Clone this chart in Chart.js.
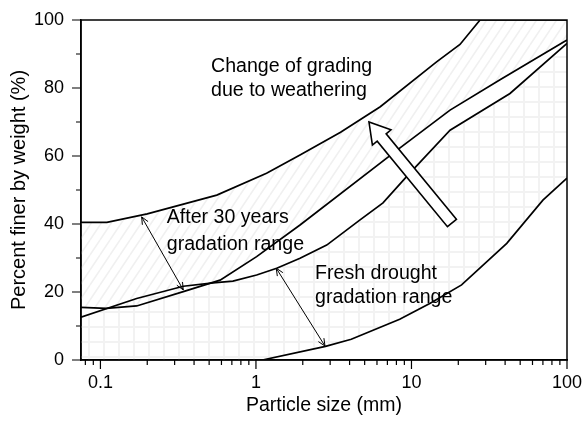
<!DOCTYPE html>
<html><head><meta charset="utf-8">
<script src="https://cdn.jsdelivr.net/npm/chart.js@4/dist/chart.umd.min.js"></script>
<style>html,body{margin:0;padding:0;background:#fff}#wrap{width:586px;height:421px}</style>
</head><body><div id="wrap"><canvas id="c" width="586" height="421"></canvas></div>
<script>
// ---- data (particle size in mm, percent finer by weight) ----
const after30Upper_size = [0.075, 0.11, 0.2, 0.56, 1.17, 1.92, 3.5, 6.3, 14.5, 20.5, 27.6, 100];
const after30Upper_pct  = [40.5, 40.5, 43, 48.5, 54.9, 60.3, 67, 74.5, 87.7, 92.8, 100, 100];
const after30Lower_size = [0.075, 0.109, 0.171, 0.341, 0.588, 1.01, 1.92, 8.44, 17.7, 37.1, 100];
const after30Lower_pct  = [15.5, 15.2, 15.9, 20.1, 23.5, 30.4, 39.7, 62.4, 73.5, 82.4, 94.1];
const freshUpper_size = [0.075, 0.171, 0.341, 0.53, 0.711, 1.01, 1.36, 1.92, 2.85, 4.67, 6.56, 9.33, 17.7, 43, 100];
const freshUpper_pct  = [12.6, 18.1, 21.7, 22.7, 23.2, 25, 27, 29.9, 33.8, 41.2, 46.2, 54, 67.6, 78.4, 93.1];
const freshLower_size = [0.075, 1.1, 2.8, 4.1, 8.4, 13.2, 21, 41, 70, 100];
const freshLower_pct  = [0, 0, 4, 6.1, 12, 16.7, 22.1, 34.3, 47, 53.5];

const xMajorTicks = [0.1, 1, 10, 100];
const xMinorTicks = [0.08, 0.09, 0.2, 0.3, 0.4, 0.5, 0.6, 0.7, 0.8, 0.9, 2, 3, 4, 5, 6, 7, 8, 9, 20, 30, 40, 50, 60, 70, 80, 90];
const yMajorTicks = [0, 20, 40, 60, 80, 100];
const yMinorTicks = [10, 30, 50, 70, 90];

const xLabel = 'Particle size (mm)';
const yLabel = 'Percent finer by weight (%)';

// annotations (data coordinates)
const notes = [
  {lines: ['Change of grading', 'due to weathering'], x: 0.514, y: [84.7, 77.6]},
  {lines: ['After 30 years', 'gradation range'], x: 0.267, y: [40.4, 32.4]},
  {lines: ['Fresh drought', 'gradation range'], x: 2.40, y: [23.8, 16.7]}
];
const thinArrows = [
  {from: [0.184, 42.1], to: [0.341, 20.6]},
  {from: [1.35, 27.0], to: [2.78, 4.1]}
];
const bigArrow = {tail: [18.2, 40.3], tip: [5.33, 70.0]};

const FONT = '"Liberation Sans", Arial, Helvetica, sans-serif';
const toPts = (xs, ys) => xs.map((v, i) => ({x: v, y: ys[i]}));

const canvas = document.getElementById('c');
const mainCtx = canvas.getContext('2d');

function hatchPattern() {
  const w = 10, h = 15;
  const c = document.createElement('canvas'); c.width = w; c.height = h;
  const g = c.getContext('2d');
  g.strokeStyle = '#f0f0f0'; g.lineWidth = 1.6;
  g.beginPath();
  for (const dx of [-w, 0, w]) { g.moveTo(dx, h); g.lineTo(dx + w, 0); }
  g.stroke();
  return mainCtx.createPattern(c, 'repeat');
}
function gridPattern() {
  const s = 15;
  const c = document.createElement('canvas'); c.width = s; c.height = s;
  const g = c.getContext('2d');
  g.fillStyle = '#f2f2f2';
  g.fillRect(13, 0, 2, s);
  g.fillRect(0, 11, s, 2);
  return mainCtx.createPattern(c, 'repeat');
}

const decoPlugin = {
  id: 'deco',
  afterDraw(chart) {
    const {ctx, chartArea: a, scales: {x, y}} = chart;
    ctx.save();
    // frame
    ctx.strokeStyle = '#000'; ctx.lineWidth = 1.5;
    ctx.strokeRect(a.left, a.top, a.right - a.left, a.bottom - a.top);
    // ticks
    ctx.lineWidth = 1.2;
    ctx.beginPath();
    xMajorTicks.forEach(v => { const p = x.getPixelForValue(v); ctx.moveTo(p, a.bottom); ctx.lineTo(p, a.bottom + 9); });
    xMinorTicks.forEach(v => { const p = x.getPixelForValue(v); ctx.moveTo(p, a.bottom); ctx.lineTo(p, a.bottom + 5); });
    yMajorTicks.forEach(v => { const p = y.getPixelForValue(v); ctx.moveTo(a.left, p); ctx.lineTo(a.left - 9, p); });
    yMinorTicks.forEach(v => { const p = y.getPixelForValue(v); ctx.moveTo(a.left, p); ctx.lineTo(a.left - 5, p); });
    ctx.stroke();

    // big hollow arrow
    const tx = x.getPixelForValue(bigArrow.tail[0]), ty = y.getPixelForValue(bigArrow.tail[1]);
    const hx = x.getPixelForValue(bigArrow.tip[0]), hy = y.getPixelForValue(bigArrow.tip[1]);
    const len = Math.hypot(hx - tx, hy - ty);
    const ux = (hx - tx) / len, uy = (hy - ty) / len;
    const nx = -uy, ny = ux;
    const sw = 5.8, hw = 12, hl = 20;
    const bx = hx - ux * hl, by = hy - uy * hl;
    ctx.beginPath();
    ctx.moveTo(tx + nx * sw, ty + ny * sw);
    ctx.lineTo(bx + nx * sw, by + ny * sw);
    ctx.lineTo(bx + nx * hw, by + ny * hw);
    ctx.lineTo(hx, hy);
    ctx.lineTo(bx - nx * hw, by - ny * hw);
    ctx.lineTo(bx - nx * sw, by - ny * sw);
    ctx.lineTo(tx - nx * sw, ty - ny * sw);
    ctx.closePath();
    ctx.fillStyle = '#fff'; ctx.fill();
    ctx.lineWidth = 1.6; ctx.lineJoin = 'miter'; ctx.stroke();

    // thin double arrows
    ctx.lineWidth = 1; ctx.strokeStyle = '#000';
    const head = (px, py, dx, dy) => {
      const L = Math.hypot(dx, dy), ax = dx / L, ay = dy / L, s = 8, ang = 0.42;
      const c = Math.cos(ang), sn = Math.sin(ang);
      ctx.moveTo(px - s * (ax * c - ay * sn), py - s * (ay * c + ax * sn));
      ctx.lineTo(px, py);
      ctx.lineTo(px - s * (ax * c + ay * sn), py - s * (ay * c - ax * sn));
    };
    thinArrows.forEach(ar => {
      const x1 = x.getPixelForValue(ar.from[0]), y1 = y.getPixelForValue(ar.from[1]);
      const x2 = x.getPixelForValue(ar.to[0]), y2 = y.getPixelForValue(ar.to[1]);
      ctx.beginPath();
      ctx.moveTo(x1, y1); ctx.lineTo(x2, y2);
      head(x2, y2, x2 - x1, y2 - y1);
      head(x1, y1, x1 - x2, y1 - y2);
      ctx.stroke();
    });

    // text notes
    ctx.fillStyle = '#000';
    ctx.font = '19.6px ' + FONT;
    ctx.textAlign = 'left'; ctx.textBaseline = 'alphabetic';
    notes.forEach(n => {
      const px = x.getPixelForValue(n.x);
      n.lines.forEach((t, i) => ctx.fillText(t, px, y.getPixelForValue(n.y[i])));
    });
    ctx.restore();
  }
};

new Chart(canvas, {
  type: 'line',
  data: {
    datasets: [
      {data: toPts(after30Upper_size, after30Upper_pct), fill: {target: 2}, backgroundColor: hatchPattern()},
      {data: toPts(freshUpper_size, freshUpper_pct), fill: {target: 3}, backgroundColor: gridPattern()},
      {data: toPts(after30Lower_size, after30Lower_pct), fill: false},
      {data: toPts(freshLower_size, freshLower_pct), fill: false}
    ]
  },
  options: {
    responsive: false,
    animation: false,
    devicePixelRatio: 1,
    layout: {padding: {left: 0, top: 20, right: 19, bottom: 0}},
    elements: {
      line: {borderColor: '#000', borderWidth: 1.7, tension: 0},
      point: {radius: 0, hoverRadius: 0}
    },
    plugins: {legend: {display: false}, tooltip: {enabled: false}, filler: {propagate: false, drawTime: 'beforeDatasetsDraw'}},
    scales: {
      x: {
        type: 'logarithmic', min: 0.075, max: 100,
        afterFit: s => { s.height = 61; s.paddingLeft = 0; s.paddingRight = 0; },
        afterBuildTicks: s => { s.ticks = xMinorTicks.concat(xMajorTicks).sort((a, b) => a - b).map(v => ({value: v})); },
        grid: {display: false, drawTicks: false},
        border: {display: true, color: '#000', width: 1.5},
        ticks: {
          autoSkip: false, maxRotation: 0, padding: 12, color: '#000',
          font: {family: FONT, size: 18},
          callback: v => xMajorTicks.includes(v) ? String(v) : ''
        },
        title: {display: true, text: xLabel, color: '#000', font: {family: FONT, size: 19.5, lineHeight: 1.2}, padding: {top: 0, bottom: 4}}
      },
      y: {
        type: 'linear', min: 0, max: 100,
        afterFit: s => { s.width = 81; s.paddingTop = 0; s.paddingBottom = 0; },
        afterBuildTicks: s => { s.ticks = yMajorTicks.concat(yMinorTicks).sort((a, b) => a - b).map(v => ({value: v})); },
        grid: {display: false, drawTicks: false},
        border: {display: true, color: '#000', width: 1.5},
        ticks: {
          autoSkip: false, padding: 17, color: '#000',
          font: {family: FONT, size: 18},
          callback: v => yMajorTicks.includes(v) ? String(v) : ''
        },
        title: {display: true, text: yLabel, color: '#000', font: {family: FONT, size: 20, lineHeight: 1.2}, padding: {top: 7, bottom: 0}}
      }
    }
  },
  plugins: [decoPlugin]
});
</script></body></html>
